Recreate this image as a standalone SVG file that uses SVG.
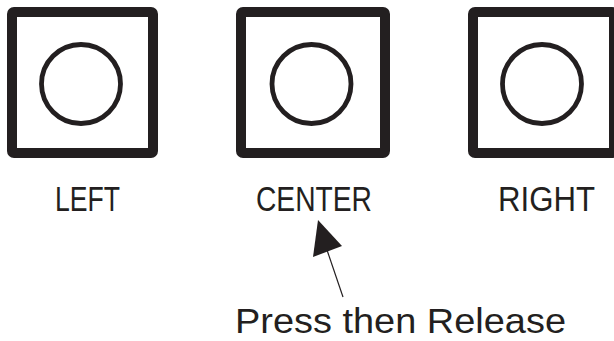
<svg xmlns="http://www.w3.org/2000/svg" width="614" height="341" viewBox="0 0 614 341">
<style>
.box{fill:none;stroke:#231f20;stroke-width:10;stroke-linejoin:round}
.btn{fill:none;stroke:#231f20;stroke-width:4.8}
.lbl{font-family:"Liberation Sans",Arial,sans-serif;font-size:35px;fill:#231f20}
.conn{stroke:#231f20;stroke-width:1.2;fill:none}
</style>
<rect width="614" height="341" fill="#fff"/>
<g id="left">
<rect class="box" x="12" y="12" width="141" height="141" rx="2"/>
<circle class="btn" cx="81" cy="84" r="39.5"/>
<text class="lbl" x="55" y="211" textLength="65" lengthAdjust="spacingAndGlyphs">LEFT</text>
</g>
<g id="center">
<rect class="box" x="241" y="12" width="144" height="141" rx="2"/>
<circle class="btn" cx="311.5" cy="84" r="39.5"/>
<text class="lbl" x="256" y="211" textLength="116" lengthAdjust="spacingAndGlyphs">CENTER</text>
</g>
<g id="right">
<rect class="box" x="473" y="12" width="141" height="141" rx="2"/>
<circle class="btn" cx="542" cy="84" r="39.5"/>
<text class="lbl" x="498" y="211" textLength="97" lengthAdjust="spacingAndGlyphs">RIGHT</text>
</g>
<g id="note">
<text class="lbl" x="235" y="333" textLength="331" lengthAdjust="spacingAndGlyphs">Press then Release</text>
</g>
<g id="connectors">
<line class="conn" x1="343" y1="297" x2="327" y2="250"/>
<polygon points="318,220 313,257 342,246" fill="#231f20"/>
</g>
</svg>
